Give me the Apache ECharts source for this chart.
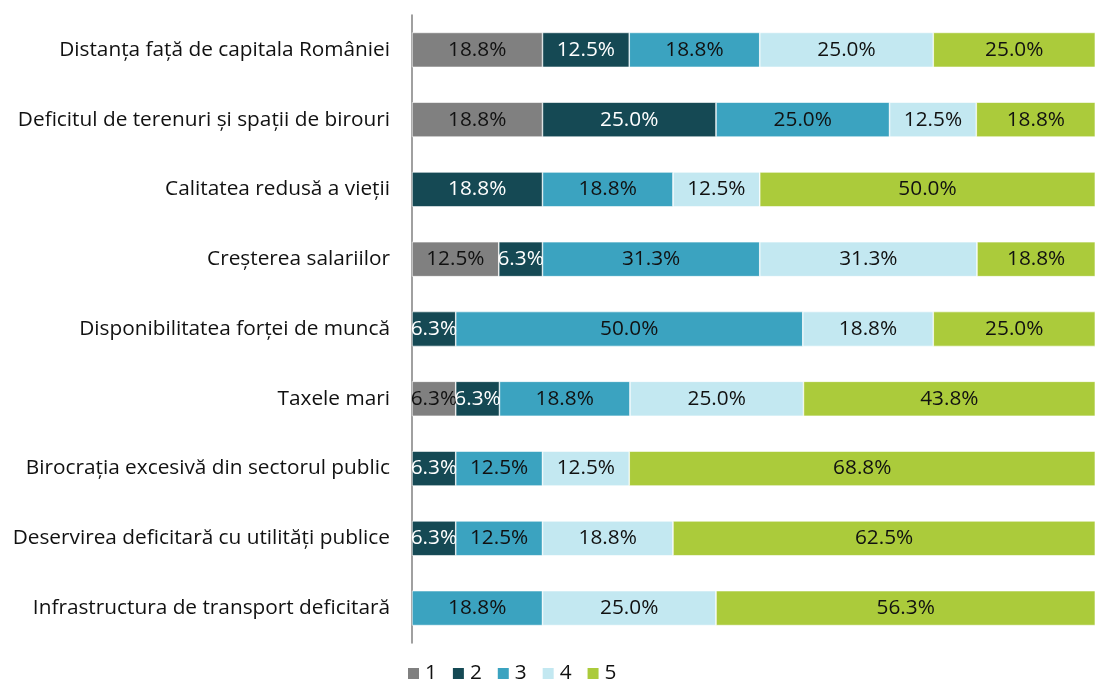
<!DOCTYPE html>
<html><head><meta charset="utf-8">
<script src="https://cdn.jsdelivr.net/npm/echarts@6/dist/echarts.min.js"></script>
<style>html,body{margin:0;padding:0;background:#fff}#c{width:1095px;height:680px}</style>
</head><body><div id="c"></div>
<script>
const categories = [
  'Distanța față de capitala României',
  'Deficitul de terenuri și spații de birouri',
  'Calitatea redusă a vieții',
  'Creșterea salariilor',
  'Disponibilitatea forței de muncă',
  'Taxele mari',
  'Birocrația excesivă din sectorul public',
  'Deservirea deficitară cu utilități publice',
  'Infrastructura de transport deficitară'
];
const seriesNames = ['1', '2', '3', '4', '5'];
const s1 = [18.8, 18.8, null, 12.5, null, 6.3, null, null, null];
const s2 = [12.5, 25.0, 18.8, 6.3, 6.3, 6.3, 6.3, 6.3, null];
const s3 = [18.8, 25.0, 18.8, 31.3, 50.0, 18.8, 12.5, 12.5, 18.8];
const s4 = [25.0, 12.5, 12.5, 31.3, 18.8, 25.0, 12.5, 18.8, 25.0];
const s5 = [25.0, 18.8, 50.0, 18.8, 25.0, 43.8, 68.8, 62.5, 56.3];
const colors = ['#808080', '#154954', '#3ba3c0', '#c3e8f1', '#abcb3b'];
const labelColors = ['#111', '#fff', '#111', '#111', '#111'];
const FONT = 'Open Sans';
const values = [s1, s2, s3, s4, s5];

const chart = echarts.init(document.getElementById('c'));
chart.setOption({
  animation: false,
  textStyle: { fontFamily: FONT },
  grid: { left: 412, right: 0, top: 15, bottom: 37, containLabel: false },
  // the plot's 100% edge lies just past the right border of the picture
  xAxis: { type: 'value', min: 0, max: 98.4, show: false },
  yAxis: {
    type: 'category', data: categories, inverse: true,
    axisLine: { show: true, lineStyle: { color: '#808080', width: 1.5 } },
    axisTick: { show: false },
    axisLabel: { color: '#111', fontSize: 20.8, margin: 22, fontFamily: FONT }
  },
  legend: {
    top: 663, left: 406, padding: 0, itemWidth: 13, itemHeight: 13, itemGap: 14,
    icon: 'rect',
    textStyle: { fontSize: 20.8, color: '#111', fontFamily: FONT },
    data: seriesNames
  },
  series: seriesNames.map((n, i) => ({
    name: n, type: 'bar', stack: 'all', data: values[i],
    barWidth: '50%',
    itemStyle: { color: colors[i], borderColor: '#fff', borderWidth: 0.6 },
    label: {
      show: true, position: 'inside', color: labelColors[i], fontSize: 20.8,
      fontFamily: FONT,
      formatter: p => p.value == null ? '' : p.value.toFixed(1) + '%'
    }
  }))
});
</script></body></html>
